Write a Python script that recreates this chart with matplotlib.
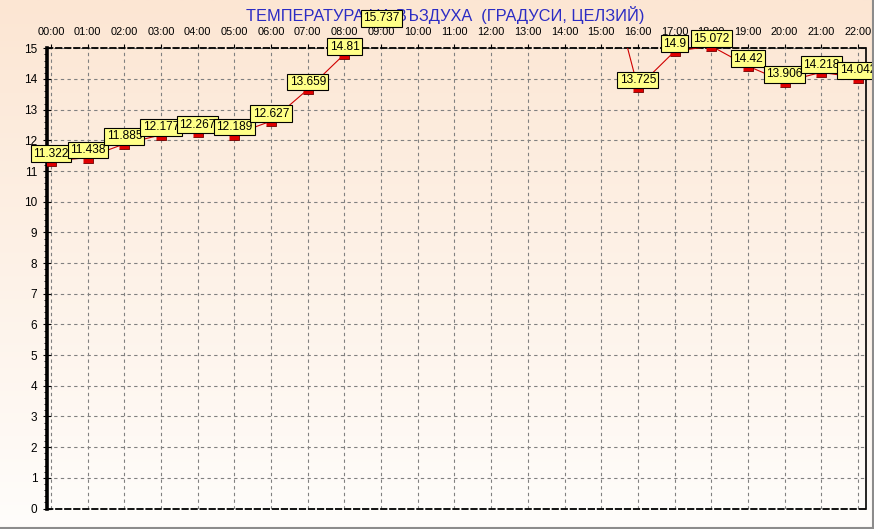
import matplotlib

matplotlib.use("Agg")

import matplotlib.pyplot as plt
import numpy as np
from matplotlib.lines import Line2D
from matplotlib.ticker import MultipleLocator

# hourly air temperature, values above 15 fall outside the plotted range
HOURS = list(range(23))
HOUR_LABELS = [f"{h:02d}:00" for h in HOURS]
TEMPERATURES = [
    11.322, 11.438, 11.885, 12.177, 12.267, 12.189, 12.627, 13.659, 14.81,
    15.737, 17.0, 17.6, 18.1, 18.4, 18.5, 18.3, 13.725, 14.9, 15.072,
    14.42, 13.906, 14.218, 14.042,
]
Y_TICKS = list(range(16))
TITLE = "ТЕМПЕРАТУРА НА ВЪЗДУХА  (ГРАДУСИ, ЦЕЛЗИЙ)"

plt.rcParams["font.family"] = ["Liberation Sans", "DejaVu Sans"]

W, H = 874, 529
fig = plt.figure(figsize=(W / 100, H / 100), dpi=100)

# background gradient, peach at the top fading to near white
bg = fig.add_axes([0, 0, 1, 1], zorder=-5)
top = np.array([252, 230, 211]) / 255
bottom = np.array([255, 253, 251]) / 255
t = np.linspace(0, 1, 256)[:, None]
grad = (top * (1 - t) + bottom * t)[:, None, :]
bg.imshow(grad, aspect="auto", extent=[0, 1, 0, 1])
bg.set_axis_off()

left, right = 47 / W, 865.5 / W
y_top, y_bot = 48.3 / H, 508.5 / H
ax = fig.add_axes([left, 1 - y_bot, right - left, y_bot - y_top])
ax.set_facecolor("none")

ax.plot(HOURS, TEMPERATURES, color="#d00000", linewidth=0.8, zorder=3)
ax.plot(
    HOURS,
    TEMPERATURES,
    linestyle="None",
    marker=[(-1, 0), (1, 0), (1, -1), (-1, -1)],
    markersize=6.5,
    markerfacecolor="#e00000",
    markeredgecolor="#700000",
    markeredgewidth=0.6,
    zorder=4,
)

for hour, value in zip(HOURS, TEMPERATURES):
    if value > 16.5:
        continue
    ax.annotate(
        f"{value:g}",
        (hour, value),
        xytext=(0, 7.5),
        textcoords="offset pixels",
        ha="center",
        va="center",
        fontsize=8.6,
        color="black",
        bbox=dict(boxstyle="square,pad=0.2", facecolor="#ffff88",
                  edgecolor="black", linewidth=0.8),
        annotation_clip=False,
        zorder=10,
    )

ax.set_xlim(-0.109, 22.206)
ax.set_ylim(0, 15)
ax.set_xticks(HOURS, HOUR_LABELS)
ax.set_yticks(Y_TICKS)
ax.yaxis.set_minor_locator(MultipleLocator(0.2))
ax.xaxis.tick_top()
ax.tick_params(axis="x", direction="out", length=3, width=0.8, pad=5,
               labelsize=7.9, colors="black")
ax.tick_params(axis="y", which="major", direction="inout", length=6,
               width=0.8, pad=4, labelsize=8.5)
ax.tick_params(axis="y", which="minor", direction="out", length=2.5, width=0.6)

ax.grid(True, color="#808080", linestyle=(0, (3, 3)), linewidth=0.8)
ax.set_axisbelow(True)

ax.spines["left"].set_linewidth(2.6)
ax.spines["left"].set_color("black")
ax.spines["right"].set_linewidth(1.2)
ax.spines["right"].set_color("black")
for side in ("top", "bottom"):
    ax.spines[side].set_linewidth(1.3)
    ax.spines[side].set_color("black")
    ax.spines[side].set_linestyle((0, (3, 2)))

ax.text(445 / W, 1 - 14.5 / H, TITLE, transform=fig.transFigure,
        ha="center", va="center", fontsize=11.8, color="#2c2cc4",
        clip_on=False, zorder=1)

# panel border along the bottom and right edge
fig.add_artist(Line2D([0, 872.5 / W], [1.5 / H, 1.5 / H],
                      transform=fig.transFigure, color="#8c8c8c", linewidth=1.5))
fig.add_artist(Line2D([872.5 / W, 872.5 / W], [1.5 / H, 1],
                      transform=fig.transFigure, color="#8c8c8c", linewidth=1.5))

fig.savefig("out.png", dpi=100)
